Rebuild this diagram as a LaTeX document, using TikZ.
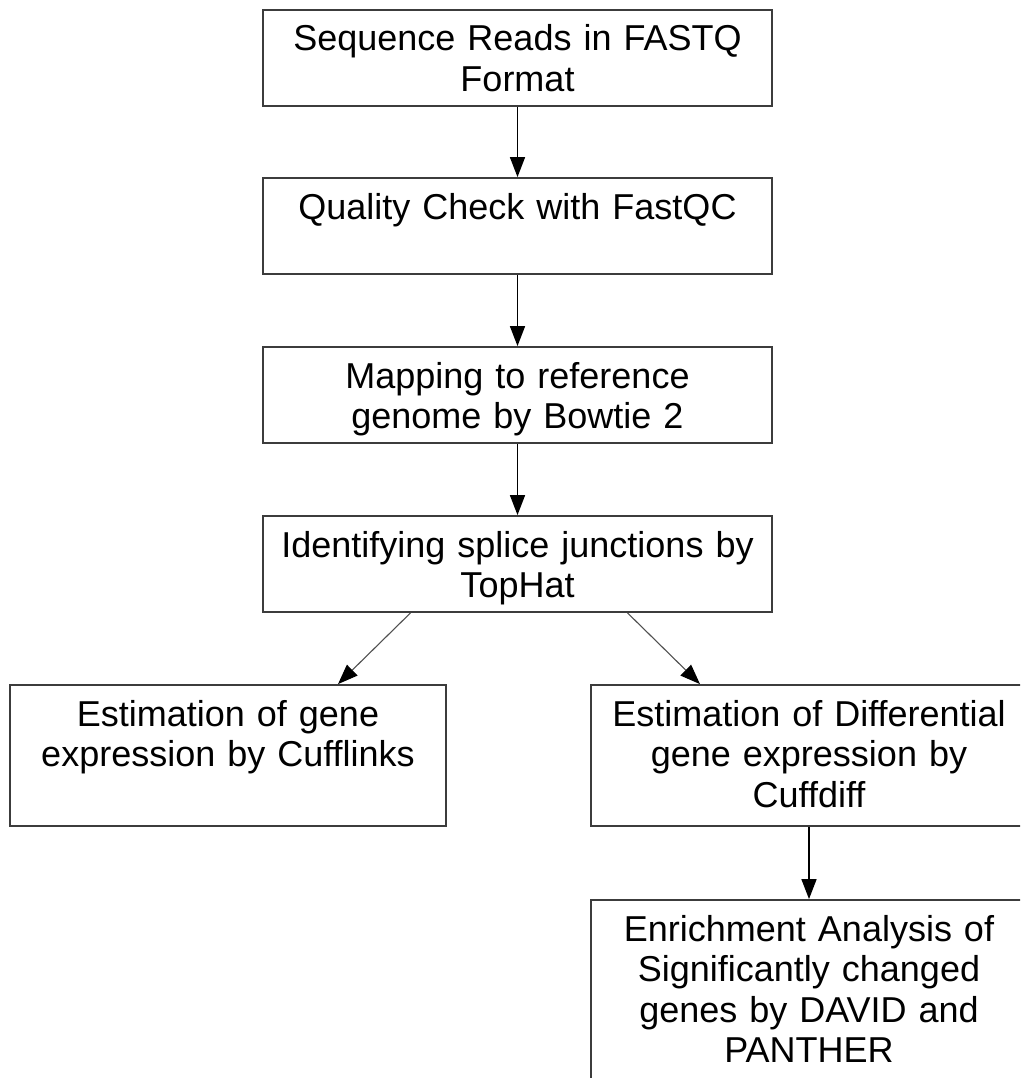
\documentclass[tikz,border=0pt]{standalone}
\usepackage{fontspec}
\setmainfont{Liberation Sans}
\usetikzlibrary{arrows.meta}
\definecolor{boxline}{HTML}{3C3C3C}
\definecolor{branchline}{HTML}{505050}

\begin{document}
\begin{tikzpicture}[x=1pt, y=-1pt,
  stage/.style={draw=boxline, line width=1.8pt, inner sep=0pt, align=center,
    font=\fontsize{36}{40.5}\selectfont, text height=41pt},
  flow/.style={-{Triangle[length=20pt, width=15pt]}, line width=1.5pt},
  branch/.style={-{Triangle[length=20pt, width=15pt, color=black]}, draw=branchline, line width=1.1pt}]
  \path[use as bounding box, clip] (0,0) rectangle (1020,1078);
  \fill[white] (0,0) rectangle (1020,1078);

  % main column
  \node[stage, text width=509pt, text depth=55pt] (reads) at (517.5,58) {Sequence Reads in FASTQ\\Format};
  \node[stage, text width=509pt, text depth=55pt] (qc) at (517.5,226) {Quality Check with FastQC};
  \node[stage, text width=509pt, text depth=55pt] (mapping) at (517.5,395) {Mapping to reference\\genome by Bowtie 2};
  \node[stage, text width=509pt, text depth=55pt] (splice) at (517.5,564) {Identifying splice junctions by\\TopHat};

  % two branches
  \node[stage, text width=436pt, text depth=100pt] (cufflinks) at (228,755.5) {Estimation of gene\\expression by Cufflinks};
  \node[stage, text width=436pt, text depth=100pt] (cuffdiff) at (809,755.5) {Estimation of Differential\\gene expression by\\Cuffdiff};
  \node[stage, text width=436pt, text depth=159pt] (enrich) at (809,1000) {Enrichment Analysis of\\Significantly changed\\genes by DAVID and\\PANTHER};

  \draw[flow] (reads) -- (qc);
  \draw[flow] (qc) -- (mapping);
  \draw[flow] (mapping) -- (splice);
  \draw[branch] ([xshift=-107pt]splice.south) -- ([xshift=110pt]cufflinks.north);
  \draw[branch] ([xshift=110pt]splice.south) -- ([xshift=-109pt]cuffdiff.north);
  \draw[flow] (cuffdiff) -- (enrich);
\end{tikzpicture}
\end{document}
